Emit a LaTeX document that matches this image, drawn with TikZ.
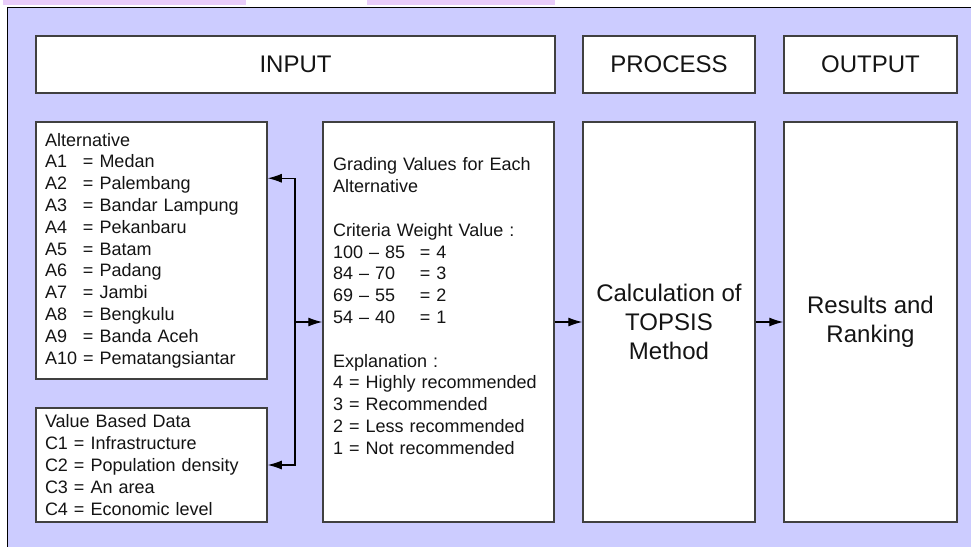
\documentclass[tikz,border=0pt]{standalone}
\usepackage{fontspec}
\setmainfont{Liberation Sans}
\usetikzlibrary{arrows.meta}
\definecolor{panelblue}{RGB}{204,204,255}
\definecolor{strippink}{RGB}{232,204,250}
\definecolor{boxline}{RGB}{64,64,64}
\definecolor{inktext}{RGB}{20,20,20}

\begin{document}
\begin{tikzpicture}[x=1pt,y=-1pt]
\tikzstyle{every node}+=[inner sep=0pt, text=inktext]
\tikzstyle{box}=[draw=boxline, line width=1.5pt, fill=white, rectangle]
\tikzstyle{small}=[font=\fontsize{18}{21.8}\selectfont, align=left]
\tikzstyle{big}=[font=\fontsize{24}{28.7}\selectfont, align=center]
\tikzstyle{link}=[black, line width=1.1pt, -{Latex[length=14pt,width=9pt]}]
\useasboundingbox (0,0) rectangle (971,546);
\clip (0,0) rectangle (971,546);
\fill [strippink] (3,0) rectangle (246,5);
\fill [strippink] (367,0) rectangle (555,5);
\draw [black, line width=1pt, fill=panelblue] (7,7) rectangle (1000,600);
% headers
\node [box, big, minimum width=519pt, minimum height=57pt] (inhead) at (295.5,64.5) {INPUT};
\node [box, big, minimum width=172pt, minimum height=57pt] (prochead) at (669,64.5) {PROCESS};
\node [box, big, minimum width=173pt, minimum height=57pt] (outhead) at (870.5,64.5) {OUTPUT};
% input boxes
\node [box, small, minimum width=231pt, minimum height=257pt, text width=213pt] (alt) at (151.5,250.5) {Alternative\\
\makebox[38pt][l]{A1}= Medan\\
\makebox[38pt][l]{A2}= Palembang\\
\makebox[38pt][l]{A3}= Bandar Lampung\\
\makebox[38pt][l]{A4}= Pekanbaru\\
\makebox[38pt][l]{A5}= Batam\\
\makebox[38pt][l]{A6}= Padang\\
\makebox[38pt][l]{A7}= Jambi\\
\makebox[38pt][l]{A8}= Bengkulu\\
\makebox[38pt][l]{A9}= Banda Aceh\\
A10 = Pematangsiantar};
\node [box, small, minimum width=231pt, minimum height=114pt, text width=213pt] (val) at (151.5,465) {Value Based Data\\
C1 = Infrastructure\\
C2 = Population density\\
C3 = An area\\
C4 = Economic level};
\node [box, small, minimum width=231pt, minimum height=400pt, text width=211pt] (grad) at (438.5,322) {Grading Values for Each\\
Alternative\\[21.8pt]
Criteria Weight Value :\\
\makebox[87pt][l]{100 -- 85}= 4\\
\makebox[87pt][l]{84 -- 70}= 3\\
\makebox[87pt][l]{69 -- 55}= 2\\
\makebox[87pt][l]{54 -- 40}= 1\\[21.8pt]
Explanation :\\
4 = Highly recommended\\
3 = Recommended\\
2 = Less recommended\\
1 = Not recommended\\[10pt]\mbox{}};
% process and output
\node [box, big, minimum width=172pt, minimum height=400pt] (topsis) at (669,322) {Calculation of\\TOPSIS\\Method};
\node [box, big, minimum width=173pt, minimum height=400pt] (res) at (870.5,322) {Results and\\Ranking};
% connectors
\coordinate (hub) at (295,322);
\draw [link] (hub) |- ([yshift=-57pt]alt.north east);
\draw [link] (hub) |- (val);
\draw [link] (hub) -- (grad);
\draw [link] (grad) -- (topsis);
\draw [link] (topsis) -- (res);
\end{tikzpicture}
\end{document}
